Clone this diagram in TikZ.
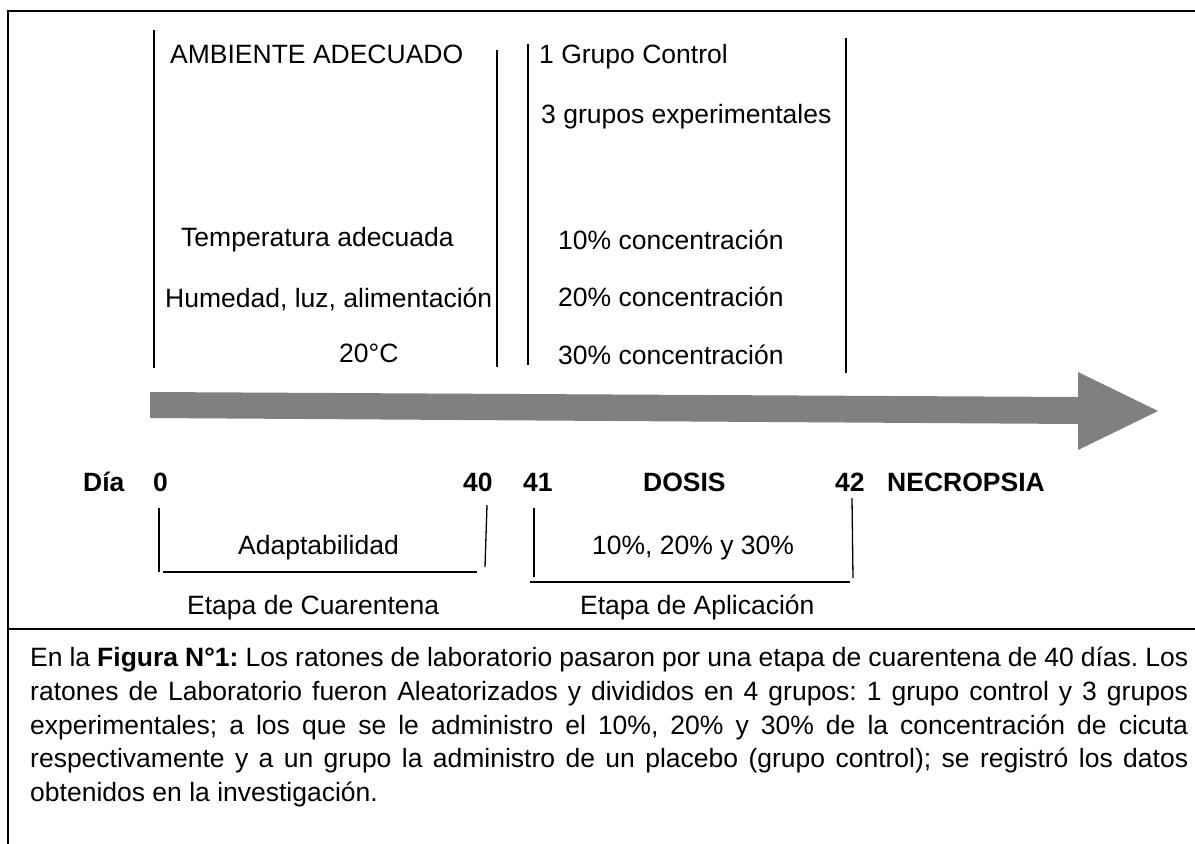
\documentclass[tikz,border=0pt]{standalone}
\usepackage{fontspec}
\setmainfont{Liberation Sans}
\usepackage{tikz}
\usetikzlibrary{positioning, calc}
\definecolor{flecha}{RGB}{128,128,128}

\begin{document}
\begin{tikzpicture}[x=1pt, y=-1pt,
    txt/.style={inner sep=0pt, anchor=base west, font=\fontsize{26.5}{33.7}\selectfont},
    lbl/.style={txt, font=\fontsize{26.5}{33.7}\selectfont\bfseries},
    marco/.style={line width=1.6pt},
    raya/.style={line width=1.3pt}]
    \useasboundingbox (0,0) rectangle (1195,844);
    % Marco y separador
    \draw[marco] (8,844) -- (8,11) -- (1195,11);
    \draw[marco] (8,629) -- (1195,629);
    % Lineas verticales superiores
    \draw[raya] (154,30) -- (154,368);
    \draw[raya] (497,50) -- (497,367);
    \draw[raya] (528,44) -- (528,365);
    \draw[raya] (846,38) -- (846,373);
    % Textos de la etapa de cuarentena
    \node[txt] (ambiente) at (170,63) {AMBIENTE ADECUADO};
    \node[txt] (temp) at (181,246) {Temperatura adecuada};
    \node[txt] (humedad) at (165,307) {Humedad, luz, alimentación};
    \node[txt] (grados) at (339,362) {20°C};
    % Textos de la etapa de aplicacion
    \node[txt] (control) at (539,63) {1 Grupo Control};
    \node[txt] (experim) at (541,123) {3 grupos experimentales};
    \foreach \y/\c in {249/10, 306/20, 364/30} {
        \node[txt] (conc\c) at (558,\y) {\c\% concentración};
    }
    % Flecha del tiempo
    \fill[flecha] (150,392) -- (1078,397) -- (1078,372) -- (1158,411)
        -- (1078,450) -- (1078,424) -- (150,418) -- cycle;
    % Dias
    \node[lbl] (dia) at (83,491) {Día};
    \foreach \x/\d in {153/0, 463/40, 523/41, 835/42} {
        \node[lbl] (d\d) at (\x,491) {\d};
    }
    \node[lbl] (dosis) at (643,491) {DOSIS};
    \node[lbl] (necropsia) at (887,491) {NECROPSIA};
    % Corchetes inferiores
    \draw[raya] (159,508) -- (159,572);
    \draw[line width=1.8pt] (163,572) -- (477,572);
    \draw[raya] (487,505) -- (485,567);
    \draw[raya] (534,508) -- (534,577);
    \draw[line width=1.6pt] (530,582) -- (850,582);
    \draw[raya] (852,498) -- (853,578);
    \node[txt] (adapt) at (238,554) {Adaptabilidad};
    \node[txt] (porc) at (592,554) {10\%, 20\% y 30\%};
    \node[txt] (cuarentena) at (187,614) {Etapa de Cuarentena};
    \node[txt] (aplicacion) at (580,614) {Etapa de Aplicación};
    % Leyenda
    \node[txt, anchor=north west, text width=1158pt, align=justify] (leyenda) at (30,647)
        {\frenchspacing\hyphenpenalty=10000\tolerance=10000 En la \textbf{Figura N°1:} Los ratones de laboratorio pasaron por una etapa de cuarentena de 40 días. Los\linebreak
        ratones de Laboratorio fueron Aleatorizados y divididos en 4 grupos: 1 grupo control y 3 grupos\linebreak
        experimentales; a los que se le administro el 10\%, 20\% y 30\% de la concentración de cicuta\linebreak
        respectivamente y a un grupo la administro de un placebo (grupo control); se registró los datos\linebreak
        obtenidos en la investigación.};
\end{tikzpicture}
\end{document}
